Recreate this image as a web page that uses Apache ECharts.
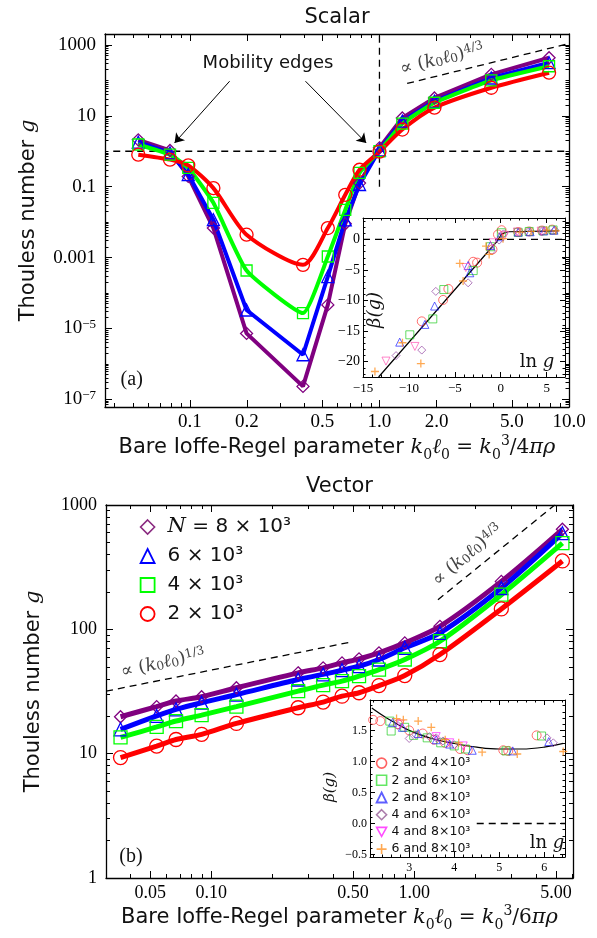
<!DOCTYPE html>
<html><head><meta charset="utf-8">
<script src="https://cdn.jsdelivr.net/npm/echarts@6/dist/echarts.min.js"></script>
<style>html,body{margin:0;padding:0;background:#fff}#c{width:597px;height:938px}</style>
</head><body><div id="c"></div>
<script>
// ---------------- DATA ----------------
// (a) Scalar
const scalarKl = [0.0534,0.0785,0.098,0.133,0.199,0.395,0.534,0.66,0.785,1.0,1.32,1.95,3.89,7.85];
const scalarG8 = [2.1,1.05,0.195,0.0068,7.2e-6,2.3e-7,4.6e-5,0.009,0.126,1.25,8.7,32,148,437];
const scalarG6 = [1.8,0.9,0.22,0.0117,3.3e-5,1.8e-6,2.9e-4,0.0115,0.115,1.1,7.1,25.7,117,316];
const scalarG4 = [1.55,0.8,0.34,0.035,4.3e-4,2.7e-5,1.07e-3,0.022,0.245,1.0,6.0,23.4,100,251];
const scalarG2 = [0.8,0.58,0.4,0.091,4.4e-3,6.2e-4,6.8e-3,0.059,0.30,0.97,4.1,17,62,165];
// (b) Vector
const vectorKl = [0.0357,0.0538,0.067,0.0896,0.133,0.268,0.356,0.441,0.535,0.671,0.899,1.34,2.69,5.38];
const vectorG8 = [19.8,23.9,26.5,28.7,33.9,44.7,49,53.7,57.9,64.7,77.8,105.7,243,638];
const vectorG6 = [15.7,20.1,22.7,25.7,29.9,39.5,43.4,46.9,50.5,57.2,71,93.5,215,593];
const vectorG4 = [13.5,16.4,18.3,20.4,23.9,31.8,35.6,38.3,42,47.5,57.2,80.2,190,493];
const vectorG2 = [9.3,11.5,13.0,14.3,17.5,23.4,26.0,29.0,30.9,35.3,42.5,62.7,146,355];
// reference lines (endpoints)
const scalarHDash = [[0.0394,1],[10,1]];
const scalarVDash = [[1,0.1],[1,2040]];
const scalarPow43 = [[1.4,82],[10,1100]];
const vectorPow13 = [[0.0303,31.8],[0.482,78.7]];
const vectorPow43 = [[1.31,173],[4.93,1000]];
const arrowFrom = [[0.162,95],[0.407,95]];
const arrowTo = [[0.083,1.72],[0.851,1.72]];
// top inset: beta(g) vs ln g
const tiCurve = [[-13.3,-22.5],[-0.4,-0.3],[0.1,0.9],[0.8,1.25],[6.3,1.38]];
const tiRed = [[-8.6,-13.4],[-6.27,-9.9],[-5.7,-8.1],[-3.0,-3.66],[-2.57,-3.8],[-0.9,-1.64],[-0.3,0.8],[0.1,1.5],[1.9,1.2],[3.1,1.3],[4.5,1.45],[5.6,1.6]];
const tiGreen = [[-9.9,-15.6],[-7.4,-13.0],[-6.2,-8.2],[-3.0,-5.1],[-1.12,-1.2],[0.07,1.09],[1.9,1.15],[3.1,1.3],[4.6,1.4],[5.7,1.55]];
const tiBlue = [[-11.0,-16.8],[-8.26,-13.9],[-7.2,-10.9],[-3.55,-4.26],[-3.37,-5.46],[-1.12,-1.0],[-0.11,0.44],[1.9,1.2],[3.2,1.25],[4.7,1.4],[5.8,1.5]];
const tiPurple = [[-11.4,-19.0],[-8.6,-18.1],[-7.07,-8.5],[-3.55,-7.1],[-1.0,-1.9],[-0.17,-0.11],[0.3,0.9],[2.0,1.1],[3.0,1.2],[4.5,1.3],[5.9,1.5]];
const tiPink = [[-12.5,-19.9],[-9.35,-17.5],[-3.8,-4.6],[-0.83,-0.55],[0.43,0.66],[1.8,1.2],[4.4,1.35]];
const tiOrange = [[-13.7,-21.6],[-10.7,-16.9],[-8.7,-20.3],[-4.46,-3.93],[-4.1,-6.8],[-1.6,-1.1],[-1.26,-2.46],[0.25,0.11],[2.1,1.2],[3.3,1.3],[5.0,1.5],[6.0,1.4]];
// bottom inset
const biCurve = [[2.17,1.86],[2.5,1.7],[3,1.5],[3.5,1.37],[4,1.29],[4.5,1.23],[5,1.2],[5.5,1.2],[6,1.23],[6.42,1.29]];
const biDash = [[4.5,0],[6.46,0]];
const biRed = [[2.2,1.67],[2.36,1.65],[2.75,1.6],[3.0,1.5],[3.3,1.45],[3.55,1.35],[3.8,1.3],[4.13,1.2],[4.3,1.18],[5.09,1.18],[5.2,1.17],[5.83,1.42]];
const biGreen = [[2.57,1.65],[2.6,1.49],[2.9,1.55],[3.1,1.42],[3.4,1.38],[3.7,1.3],[4.0,1.25],[4.25,1.2],[5.15,1.17],[5.94,1.41]];
const biBlue = [[2.63,1.63],[2.85,1.55],[3.2,1.45],[3.6,1.35],[3.9,1.28],[4.4,1.18],[5.3,1.17],[6.1,1.32]];
const biPurple = [[2.75,1.58],[3.0,1.37],[3.15,1.43],[3.45,1.4],[3.6,1.38],[3.75,1.33],[4.0,1.27],[6.06,1.38],[6.2,1.3]];
const biMagenta = [[2.8,1.6],[3.6,1.4],[3.9,1.3],[4.2,1.25]];
const biOrange = [[2.72,1.69],[2.87,1.67],[3.2,1.65],[3.49,1.55],[3.8,1.35],[4.1,1.3],[4.62,1.15],[5.4,1.12],[6.42,1.16]];
// tick labels
const sXTicks = [0.1,0.2,0.5,1,2,5,10];
const sXLabels = ['0.1','0.2','0.5','1.0','2.0','5.0','10.0'];
const sXMinor = [0.04,0.05,0.06,0.07,0.08,0.09,0.3,0.4,0.6,0.7,0.8,0.9,3,4,6,7,8,9];
const sYTicks = [1000,10,0.1,0.001,1e-5,1e-7];
const sYLabels = ['1000','10','0.1','0.001','10{sup|−5}','10{sup|−7}'];
const vXTicks = [0.05,0.1,0.5,1,5];
const vXLabels = ['0.05','0.10','0.50','1.00','5.00'];
const vXMinor = [0.04,0.06,0.07,0.08,0.09,0.2,0.3,0.4,0.6,0.7,0.8,0.9,2,3,4,6];
const vYTicks = [1,10,100,1000];
const vYLabels = ['1','10','100','1000'];
const tiXTicks = [-15,-10,-5,0,5];
const tiXLabels = ['−15','−10','−5','0','5'];
const tiYTicks = [-20,-15,-10,-5,0];
const tiYLabels = ['−20','−15','−10','−5','0'];
const biXTicks = [3,4,5,6];
const biXLabels = ['3','4','5','6'];
const biYTicks = [-0.5,0,0.5,1,1.5];
const biYLabels = ['−0.5','0.0','0.5','1.0','1.5'];

// ---------------- BUILD ----------------
const L = Math.log10;
const SANS = 'DejaVu Sans', SERIF = 'Liberation Serif', MATH = 'DejaVu Serif';
const C = {p:'#800080', b:'#0000ff', g:'#00ff00', r:'#ff0000'};

function logMinor(k0, k1, majors) {
  const out = [];
  for (let k = k0; k <= k1; k++) for (let m = 1; m <= 9; m++) {
    const v = m * Math.pow(10, k);
    if (!majors.some(t => Math.abs(L(t) - L(v)) < 1e-6)) out.push(L(v));
  }
  return out;
}
function linMinor(a, b, step, majors) {
  const out = [];
  const n = Math.round((b - a) / step);
  for (let i = 0; i <= n; i++) {
    const v = +(a + i * step).toFixed(6);
    if (!majors.some(t => Math.abs(t - v) < 1e-6)) out.push(v);
  }
  return out;
}
function fmt(v, ticks, labels) {
  for (let i = 0; i < ticks.length; i++) if (Math.abs(ticks[i] - v) < 1e-6) return labels[i];
  return '';
}
const nameStyle = {fontFamily: SANS, fontSize: 21, color: '#111', lineHeight: 28,
  rich: {m: {fontFamily: MATH, fontStyle: 'italic', fontSize: 21},
         r: {fontFamily: MATH, fontSize: 20},
         sb: {fontFamily: MATH, fontSize: 14, lineHeight: 13, verticalAlign: 'bottom'},
         sp: {fontFamily: MATH, fontSize: 14, lineHeight: 10, verticalAlign: 'top'}}};
const axesX = [], axesY = [];
function frameAxes(dim, grid, o) {
  const arr = dim === 'x' ? axesX : axesY;
  const sides = dim === 'x' ? ['bottom', 'top'] : ['left', 'right'];
  const idx = arr.length;
  sides.forEach((pos, si) => {
    [0, 1].forEach(tier => {
      const ax = {
        type: 'value', gridIndex: grid, position: pos, min: o.lo, max: o.hi,
        axisLine: {show: tier === 0, onZero: false, lineStyle: {color: '#000', width: o.lw}},
        axisTick: {show: true, inside: true, length: tier === 0 ? o.majLen : o.minLen,
          customValues: tier === 0 ? o.ticks : o.minor, lineStyle: {color: '#000', width: 1}},
        axisLabel: {show: false}, splitLine: {show: false}, splitArea: {show: false}
      };
      if (si === 0 && tier === 0) {
        ax.axisLabel = {show: true, customValues: o.ticks, formatter: v => fmt(v, o.ticks, o.labels),
          margin: o.margin, color: '#000', fontFamily: SERIF, fontSize: o.fs, lineHeight: o.fs + 2,
          rich: {sup: {fontFamily: SERIF, fontSize: 13, lineHeight: 7, verticalAlign: 'top'}}};
        if (o.name) {
          ax.name = o.name; ax.nameLocation = 'middle'; ax.nameGap = o.nameGap; ax.nameTextStyle = nameStyle;
        }
      }
      arr.push(ax);
    });
  });
  return idx;
}
const yName = 'Thouless number {m|g}';
const xNameA = 'Bare Ioffe-Regel parameter {m|k}{sb|0}{m|ℓ}{sb|0}{r| = }{m|k}{sb|0}{sp|3}{r|/4}{m|πρ}';
const xNameB = 'Bare Ioffe-Regel parameter {m|k}{sb|0}{m|ℓ}{sb|0}{r| = }{m|k}{sb|0}{sp|3}{r|/6}{m|πρ}';

// grids
const grids = [
  {left: 105, top: 34, width: 464, height: 373},
  {left: 363, top: 218, width: 202, height: 159, show: true, backgroundColor: '#fff', borderWidth: 0},
  {left: 106, top: 505, width: 467, height: 373},
  {left: 370, top: 700, width: 195, height: 157, show: true, backgroundColor: '#fff', borderWidth: 0}
].map(g => Object.assign({outerBoundsMode: 'none', containLabel: false}, g));

const ax0 = frameAxes('x', 0, {lo: -1.448, hi: 1.0, ticks: sXTicks.map(L), labels: sXLabels, minor: sXMinor.map(L),
  lw: 1.3, majLen: 7, minLen: 4, fs: 19, margin: 5, name: xNameA, nameGap: 27});
const ay0 = frameAxes('y', 0, {lo: -7.22, hi: 3.31, ticks: sYTicks.map(L), labels: sYLabels, minor: logMinor(-8, 3, sYTicks),
  lw: 1.3, majLen: 7, minLen: 3.5, fs: 19, margin: 9, name: yName, nameGap: 57});
const ax1 = frameAxes('x', 1, {lo: -15, hi: 7, ticks: tiXTicks, labels: tiXLabels, minor: linMinor(-15, 7, 1, tiXTicks),
  lw: 1, majLen: 5, minLen: 2.5, fs: 13, margin: 4});
const ay1 = frameAxes('y', 1, {lo: -22.5, hi: 3.5, ticks: tiYTicks, labels: tiYLabels, minor: linMinor(-22, 3, 1, tiYTicks),
  lw: 1, majLen: 5, minLen: 2.5, fs: 14, margin: 3});
const ax2 = frameAxes('x', 2, {lo: -1.519, hi: 0.783, ticks: vXTicks.map(L), labels: vXLabels, minor: vXMinor.map(L),
  lw: 1.3, majLen: 7, minLen: 4, fs: 18, margin: 5, name: xNameB, nameGap: 20});
const ay2 = frameAxes('y', 2, {lo: 0, hi: 3, ticks: vYTicks.map(L), labels: vYLabels, minor: logMinor(0, 2, vYTicks),
  lw: 1.3, majLen: 7, minLen: 4, fs: 18, margin: 9, name: yName, nameGap: 58});
const ax3 = frameAxes('x', 3, {lo: 2.13, hi: 6.46, ticks: biXTicks, labels: biXLabels, minor: linMinor(2.2, 6.4, 0.2, biXTicks),
  lw: 1, majLen: 5, minLen: 2.5, fs: 12, margin: 4});
const ay3 = frameAxes('y', 3, {lo: -0.54, hi: 1.99, ticks: biYTicks, labels: biYLabels, minor: linMinor(-0.5, 1.9, 0.1, biYTicks),
  lw: 1, majLen: 5, minLen: 2.5, fs: 12, margin: 3});

const hollow = (c, w) => ({color: 'rgba(0,0,0,0)', borderColor: c, borderWidth: w});
function mainLine(name, xs, ys, c, sym, size, lw, smooth, xi, yi) {
  return {type: 'line', name, xAxisIndex: xi, yAxisIndex: yi, data: xs.map((x, i) => [L(x), L(ys[i])]),
    symbol: sym, symbolSize: size, showAllSymbol: true, smooth, lineStyle: {color: c, width: lw},
    itemStyle: hollow(c, 1.3), z: 3, silent: true};
}
function dashed(pts, xi, yi, isLog, color) {
  return {type: 'line', xAxisIndex: xi, yAxisIndex: yi, data: pts.map(p => isLog ? [L(p[0]), L(p[1])] : p),
    symbol: 'none', lineStyle: {color: color || '#000', width: 1.3, type: [7, 5]}, z: 2, silent: true};
}
const DOWN = 'path://M0,0L10,0L5,9Z';
const PLUS = 'path://M4.2,0H5.8V4.2H10V5.8H5.8V10H4.2V5.8H0V4.2H4.2Z';
function scat(name, pts, c, sym, size, xi, yi, filled) {
  return {type: 'scatter', name, xAxisIndex: xi, yAxisIndex: yi, data: pts, symbol: sym, symbolSize: size,
    itemStyle: filled ? {color: c, opacity: 0.75} : Object.assign(hollow(c, 1), {opacity: 0.7}), z: 5, silent: true};
}

const series = [
  // (a) scalar
  dashed(scalarHDash, ax0, ay0, true), dashed(scalarVDash, ax0, ay0, true), dashed(scalarPow43, ax0, ay0, true),
  mainLine('sN8', scalarKl, scalarG8, C.p, 'diamond', 12, 4, false, ax0, ay0),
  mainLine('sN6', scalarKl, scalarG6, C.b, 'triangle', 12, 4, false, ax0, ay0),
  mainLine('sN4', scalarKl, scalarG4, C.g, 'rect', 11, 4, 0.15, ax0, ay0),
  mainLine('sN2', scalarKl, scalarG2, C.r, 'circle', 13, 4, 0.25, ax0, ay0),
  {type: 'lines', coordinateSystem: 'cartesian2d', xAxisIndex: ax0, yAxisIndex: ay0, symbol: ['none', 'arrow'], symbolSize: 9,
   lineStyle: {color: '#000', width: 1, opacity: 1}, silent: true, z: 6,
   data: arrowFrom.map((s, i) => ({coords: [[L(s[0]), L(s[1])], [L(arrowTo[i][0]), L(arrowTo[i][1])]]}))},
  // top inset
  dashed([[-15, 0], [7, 0]], ax1, ay1, false),
  {type: 'line', xAxisIndex: ax1, yAxisIndex: ay1, data: tiCurve, symbol: 'none', lineStyle: {color: '#000', width: 1.2}, z: 4, silent: true},
  scat('ti2', tiRed, '#ff3030', 'circle', 9, ax1, ay1),
  scat('ti4', tiGreen, '#22cc22', 'rect', 8, ax1, ay1),
  scat('ti6', tiBlue, '#2020ff', 'triangle', 8, ax1, ay1),
  scat('ti8', tiPurple, '#9040a0', 'diamond', 8, ax1, ay1),
  scat('tiM', tiPink, '#ff50b0', DOWN, 8, ax1, ay1),
  scat('tiO', tiOrange, '#ff8c1a', PLUS, 8, ax1, ay1, true),
  // (b) vector
  dashed(vectorPow13, ax2, ay2, true), dashed(vectorPow43, ax2, ay2, true),
  mainLine('N8', vectorKl, vectorG8, C.p, 'diamond', 12, 5, 0.3, ax2, ay2),
  mainLine('N6', vectorKl, vectorG6, C.b, 'triangle', 13, 5, 0.3, ax2, ay2),
  mainLine('N4', vectorKl, vectorG4, C.g, 'rect', 13, 5, 0.3, ax2, ay2),
  mainLine('N2', vectorKl, vectorG2, C.r, 'circle', 14, 5, 0.3, ax2, ay2),
  // bottom inset
  dashed(biDash, ax3, ay3, false),
  {type: 'line', xAxisIndex: ax3, yAxisIndex: ay3, data: biCurve, symbol: 'none', smooth: 0.4, lineStyle: {color: '#000', width: 1.2}, z: 4, silent: true},
  scat('2 and 4×10³', biRed, '#ff3030', 'circle', 9, ax3, ay3),
  scat('2 and 6×10³', biGreen, '#22cc22', 'rect', 8, ax3, ay3),
  scat('2 and 8×10³', biBlue, '#2020ff', 'triangle', 8, ax3, ay3),
  scat('4 and 6×10³', biPurple, '#9040a0', 'diamond', 8, ax3, ay3),
  scat('4 and 8×10³', biMagenta, '#ff20ff', DOWN, 8, ax3, ay3),
  scat('6 and 8×10³', biOrange, '#ff8c1a', PLUS, 8, ax3, ay3, true)
];

const mainLegendText = {N8: '{s| }{i|N} = 8 × 10³', N6: '{s| }6 × 10³', N4: '{s| }4 × 10³', N2: '{s| }2 × 10³'};
const legends = [
  {orient: 'vertical', left: 139.7, top: 516, padding: 0, itemWidth: 14, itemHeight: 14, itemGap: 7, selectedMode: false,
   formatter: n => mainLegendText[n],
   textStyle: {fontFamily: SANS, fontSize: 20, color: '#111', lineHeight: 22,
     rich: {s: {width: 8, fontSize: 20}, i: {fontFamily: MATH, fontStyle: 'italic', fontSize: 21}}},
   data: [
     {name: 'N8', icon: 'diamond', itemStyle: hollow('#8a2a80', 1.6)},
     {name: 'N6', icon: 'triangle', itemStyle: hollow(C.b, 1.8)},
     {name: 'N4', icon: 'rect', itemStyle: hollow(C.g, 1.8)},
     {name: 'N2', icon: 'circle', itemStyle: hollow(C.r, 1.8)}]},
  {orient: 'vertical', left: 375.7, top: 756, padding: 0, itemWidth: 10, itemHeight: 10, itemGap: 3, selectedMode: false,
   textStyle: {fontFamily: SANS, fontSize: 12.5, color: '#111', lineHeight: 14.2},
   data: [
     {name: '2 and 4×10³', icon: 'circle', itemStyle: hollow('#ff2020', 1.6)},
     {name: '2 and 6×10³', icon: 'rect', itemStyle: hollow('#22dd22', 1.6)},
     {name: '2 and 8×10³', icon: 'triangle', itemStyle: hollow('#1a1aff', 1.8)},
     {name: '4 and 6×10³', icon: 'diamond', itemStyle: hollow('#884488', 1.6)},
     {name: '4 and 8×10³', icon: DOWN, itemStyle: hollow('#ff00ff', 1.6)},
     {name: '6 and 8×10³', icon: PLUS, itemStyle: {color: '#ff8c1a', borderWidth: 0}}]}
];

function txt(x, y, text, o) {
  o = o || {};
  return {type: 'text', x, y, rotation: o.rot || 0, z: 100, silent: true,
    style: {text, fill: o.fill || '#111', fontFamily: o.ff || SANS, fontSize: o.fs || 18, fontStyle: o.fst || 'normal',
      align: 'center', verticalAlign: 'middle', textAlign: 'center', textVerticalAlign: 'middle', rich: o.rich || {}}};
}
const mathRich = (fs) => ({
  m: {fontFamily: MATH, fontStyle: 'italic', fontSize: fs},
  sb: {fontFamily: MATH, fontSize: fs * 0.68, lineHeight: 10, verticalAlign: 'bottom'},
  sp: {fontFamily: MATH, fontSize: fs * 0.68, lineHeight: 8, verticalAlign: 'top'}
});
const propText = (p) => '∝ ({m|k}{sb|0}{m|ℓ}{sb|0}){sp|' + p + '}';
const deg = Math.PI / 180;
const graphics = [
  txt(337, 18, 'Scalar', {fs: 21}),
  txt(339.5, 487, 'Vector', {fs: 21}),
  txt(268, 63, 'Mobility edges', {fs: 18}),
  txt(442, 59, propText('4/3'), {ff: MATH, fs: 18, fill: '#444', rot: 14.7 * deg, rich: mathRich(18)}),
  txt(163, 663, propText('1/3'), {ff: MATH, fs: 18, fill: '#444', rot: 13 * deg, rich: mathRich(18)}),
  txt(467.5, 555, propText('4/3'), {ff: MATH, fs: 18, fill: '#444', rot: 41 * deg, rich: mathRich(18)}),
  txt(131.7, 380, '(a)', {ff: SERIF, fs: 20}),
  txt(131, 857, '(b)', {ff: SERIF, fs: 20}),
  txt(375, 310, 'β(g)', {ff: MATH, fs: 18, fst: 'italic', rot: 90 * deg}),
  txt(537, 362, 'ln {m|g}', {ff: MATH, fs: 18, rich: mathRich(18)}),
  txt(330, 787, 'β(g)', {ff: MATH, fs: 15, fst: 'italic', rot: 90 * deg}),
  txt(547, 843, 'ln {m|g}', {ff: MATH, fs: 18, rich: mathRich(18)})
];

const chart = echarts.init(document.getElementById('c'), null, {renderer: 'canvas'});
chart.setOption({
  animation: false,
  backgroundColor: '#fff',
  textStyle: {fontFamily: SANS},
  grid: grids,
  xAxis: axesX,
  yAxis: axesY,
  legend: legends,
  series,
  graphic: graphics
});
</script></body></html>
